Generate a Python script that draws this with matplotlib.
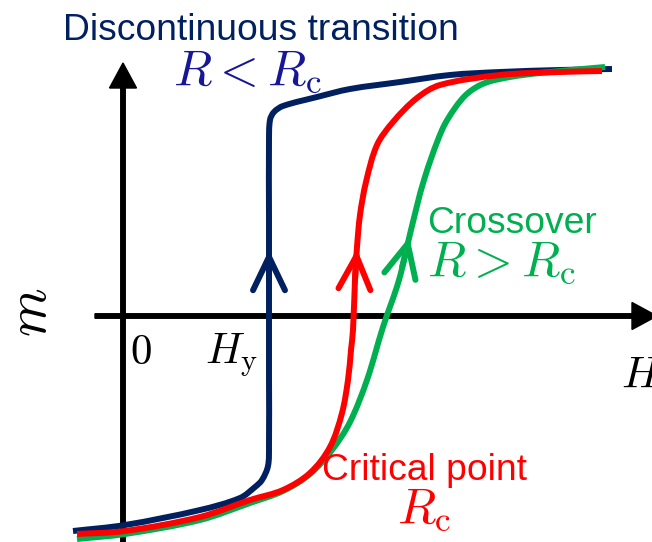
import numpy as np
import matplotlib
matplotlib.use("Agg")
import matplotlib.pyplot as plt
from matplotlib.path import Path
from matplotlib.patches import PathPatch

plt.rcParams["mathtext.fontset"] = "cm"
plt.rcParams["font.family"] = ["Liberation Sans", "DejaVu Sans"]

# Magnetisation curves m(H) for three disorder strengths R
H_disc = [-0.50, 0.02, 0.77, 1.17, 1.32, 1.39, 1.45, 1.46, 1.46, 1.46, 1.46, 1.46,
          1.47, 1.51, 1.60, 1.94, 2.27, 2.77, 3.27, 3.77, 4.37, 4.89]
m_disc = [-2.15, -2.09, -1.94, -1.82, -1.71, -1.64, -1.50, -1.30, -0.60, 0.20, 1.00, 1.75,
          1.96, 2.04, 2.10, 2.19, 2.27, 2.34, 2.41, 2.44, 2.46, 2.47]

H_crit = [-0.46, 0.02, 0.77, 1.27, 1.60, 1.87, 2.07, 2.19, 2.25, 2.28, 2.30,
          2.32, 2.34, 2.37, 2.43, 2.54, 2.70, 2.94, 3.17, 3.77, 4.37, 4.79]
m_crit = [-2.18, -2.15, -2.01, -1.84, -1.74, -1.57, -1.31, -0.97, -0.64, -0.34, -0.14,
          0.36, 0.69, 1.01, 1.34, 1.71, 1.94, 2.18, 2.31, 2.41, 2.44, 2.45]

H_cross = [-0.46, 0.02, 0.77, 1.27, 1.60, 1.87, 2.09, 2.27, 2.44, 2.60, 2.76,
           2.88, 3.01, 3.19, 3.32, 3.45, 3.62, 3.87, 4.17, 4.82]
m_cross = [-2.23, -2.18, -2.04, -1.87, -1.75, -1.58, -1.34, -1.06, -0.64, -0.11, 0.36,
           0.86, 1.36, 1.86, 2.08, 2.23, 2.33, 2.39, 2.43, 2.49]

# Heights (m) at which the sweep-direction arrowheads sit
arrow_m = {"disc": 0.66, "crit": 0.67, "cross": 0.79}

NAVY = "#002060"
RED = "#ff0000"
GREEN = "#00b050"
TEXT_BLUE = "#161696"


def smooth_path(xs, ys):
    """Cubic Bezier path passing through every given point."""
    P = np.column_stack([xs, ys]).astype(float)
    n = len(P)
    T = np.zeros_like(P)
    for i in range(n):
        a = P[max(i - 1, 0)]
        b = P[min(i + 1, n - 1)]
        d = b - a
        T[i] = d / np.hypot(*d)
    verts = [P[0]]
    codes = [Path.MOVETO]
    for i in range(n - 1):
        seg = np.hypot(*(P[i + 1] - P[i])) / 3.0
        verts += [P[i] + T[i] * seg, P[i + 1] - T[i + 1] * seg, P[i + 1]]
        codes += [Path.CURVE4] * 3
    return Path(verts, codes)


fig = plt.figure(figsize=(6.52, 5.42), dpi=100)
ax = fig.add_axes([0, 0, 1, 1])
ax.set_xlim(-1.23, 5.29)
ax.set_ylim(-2.26, 3.16)
ax.axis("off")

# Coordinate axes with arrowheads
ax.arrow(0, -2.30, 0, 4.83, width=0.045, head_width=0.27, head_length=0.25,
         length_includes_head=True, color="black", zorder=1)
ax.arrow(-0.28, 0, 5.62, 0, width=0.045, head_width=0.27, head_length=0.25,
         length_includes_head=True, color="black", zorder=1)

lw = 4.3
curves = [
    ("disc", H_disc, m_disc, NAVY),
    ("cross", H_cross, m_cross, GREEN),
    ("crit", H_crit, m_crit, RED),
]
for key, H, m, col in curves:
    ax.add_patch(PathPatch(smooth_path(H, m), facecolor="none", edgecolor=col,
                           lw=lw, capstyle="butt", joinstyle="round", zorder=3))

for key, H, m, col in curves:
    mt = arrow_m[key]
    h_tip = np.interp(mt, m, H)
    h_tail = np.interp(mt - 0.3, m, H)
    ax.annotate("", xy=(h_tip, mt), xytext=(h_tail, mt - 0.3),
                arrowprops=dict(arrowstyle="->,head_length=2.4,head_width=1.15",
                                color=col, lw=lw, shrinkA=0, shrinkB=0,
                                mutation_scale=10),
                zorder=4)

# Labels
ax.text(-0.60, 2.76, "Discontinuous transition", color=NAVY, fontsize=26.8,
        va="baseline", ha="left")
ax.text(0.50, 2.32, r"$R<R_{\rm c}$", color=TEXT_BLUE, fontsize=36,
        va="baseline", ha="left")
ax.text(3.04, 0.83, "Crossover", color=GREEN, fontsize=26.8,
        va="baseline", ha="left")
ax.text(3.04, 0.41, r"$R>R_{\rm c}$", color=GREEN, fontsize=36,
        va="baseline", ha="left")
ax.text(1.99, -1.64, "Critical point", color=RED, fontsize=26.8,
        va="baseline", ha="left")
ax.text(2.74, -2.06, r"$R_{\rm c}$", color=RED, fontsize=36,
        va="baseline", ha="left")

ax.text(0.07, -0.48, r"$0$", color="black", fontsize=31,
        va="baseline", ha="left")
ax.text(0.82, -0.48, r"$H_{\rm y}$", color="black", fontsize=31,
        va="baseline", ha="left")
ax.text(4.98, -0.72, r"$H$", color="black", fontsize=32,
        va="baseline", ha="left")
ax.text(-0.91, 0.04, r"$m$", color="black", fontsize=40, rotation=90,
        va="center", ha="center")

fig.savefig("out.png", dpi=100)
